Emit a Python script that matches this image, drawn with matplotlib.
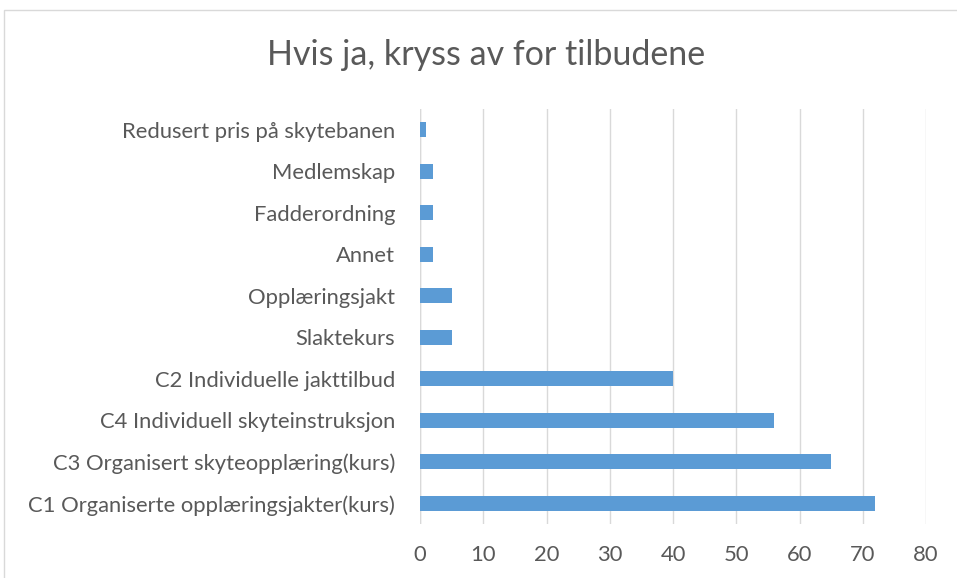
import matplotlib
matplotlib.use("Agg")
import matplotlib.pyplot as plt
from matplotlib.patches import Rectangle

categories = [
    "C1 Organiserte opplæringsjakter(kurs)",
    "C3 Organisert skyteopplæring(kurs)",
    "C4 Individuell skyteinstruksjon",
    "C2 Individuelle jakttilbud",
    "Slaktekurs",
    "Opplæringsjakt",
    "Annet",
    "Fadderordning",
    "Medlemskap",
    "Redusert pris på skytebanen",
]
values = [72, 65, 56, 40, 5, 5, 2, 2, 2, 1]
xticks = [0, 10, 20, 30, 40, 50, 60, 70, 80]
title = "Hvis ja, kryss av for tilbudene"

plt.rcParams['font.family'] = ['Lato', 'DejaVu Sans']
W, H = 957, 578
fig = plt.figure(figsize=(W / 100, H / 100), dpi=100)
fig.patch.set_facecolor("white")

# chart border (right and bottom edges fall outside the image)
fig.patches.append(Rectangle((4 / W, -0.2), 1.2, 1.2 - 10 / H,
                             transform=fig.transFigure, fill=False,
                             edgecolor="#d9d9d9", linewidth=1.0))

left, right = 420 / W, 926 / W
top, bottom = 1 - 109 / H, 1 - 524 / H
ax = fig.add_axes([left, bottom, right - left, top - bottom])

ypos = list(range(len(categories)))
ax.barh(ypos, values, height=0.36, color="#5b9bd5", zorder=3)
ax.set_xlim(0, 80)
ax.set_ylim(-0.5, len(categories) - 0.5)
ax.set_xticks(xticks)
ax.set_xticklabels([str(t) for t in xticks])
ax.set_yticks(ypos)
ax.set_yticklabels(categories)
ax.grid(axis="x", color="#d9d9d9", linewidth=1.0, zorder=0)
for s in ax.spines.values():
    s.set_visible(False)
ax.tick_params(axis="both", length=0, colors="#595959", labelsize=15.8)
ax.tick_params(axis="x", pad=15)
ax.tick_params(axis="y", pad=18)
ax.axvline(0, color="#d9d9d9", linewidth=1.0, zorder=2)

fig.text(486 / W, 1 - 55 / H, title, ha="center", va="center",
         fontsize=24.5, color="#595959")

fig.savefig("out.png", dpi=100)
